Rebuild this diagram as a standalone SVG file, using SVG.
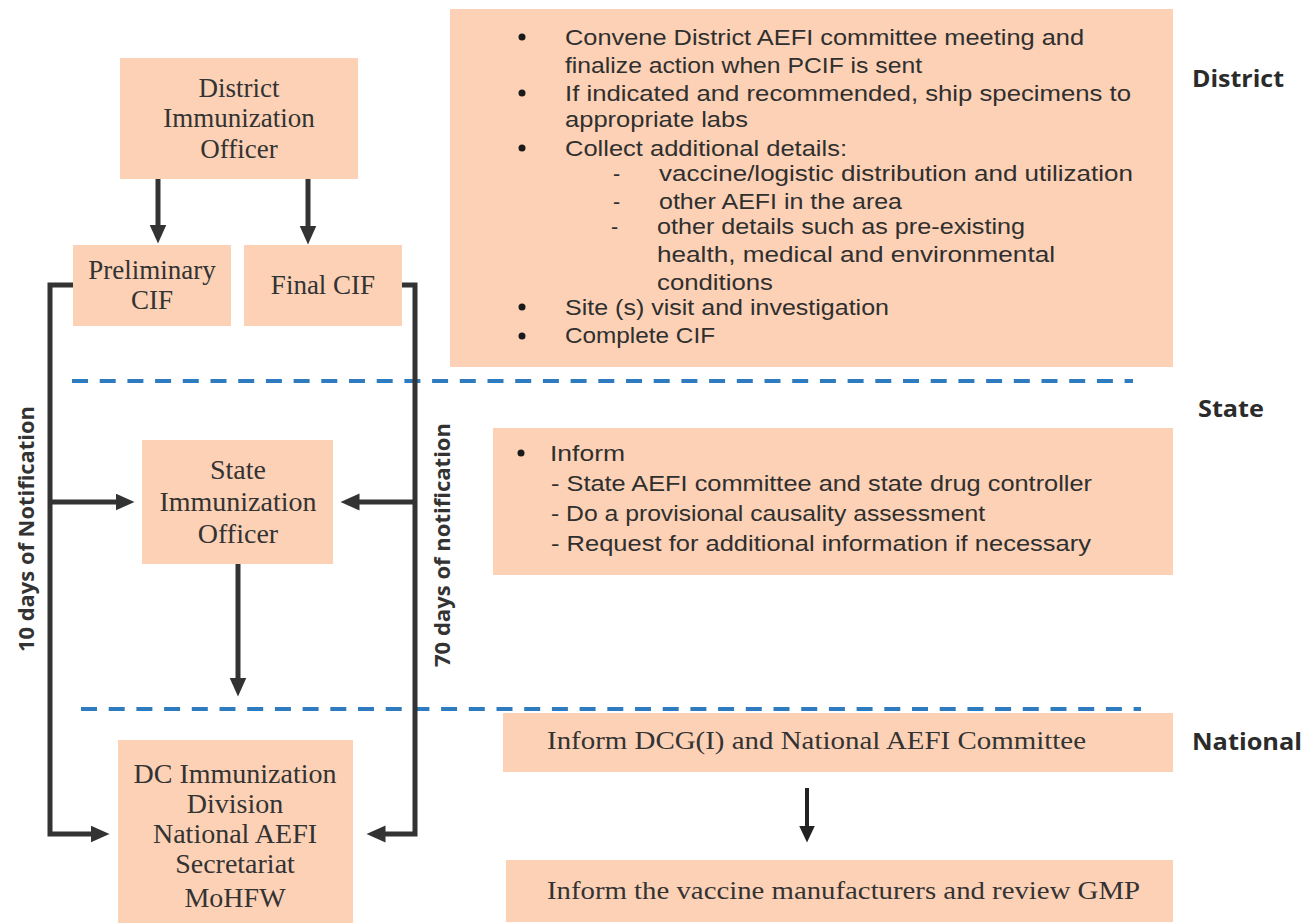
<svg xmlns="http://www.w3.org/2000/svg" width="1306" height="923" viewBox="0 0 1306 923">
<style>
.box{fill:#FCD1B5}
.serif{font-family:"Liberation Serif","Times New Roman",serif;fill:#333;text-anchor:middle}
.s27{font-size:27px}
.s28{font-size:28px}
.sans{font-family:"Liberation Sans",Arial,sans-serif;font-size:21.5px;fill:#2f2f2f}
.lbl{font-family:"Open Sans","Noto Sans",sans-serif;font-size:24px;font-weight:bold;fill:#2b2b2b}
.vlbl{font-family:"Open Sans","Noto Sans",sans-serif;font-size:22px;font-weight:bold;fill:#333;text-anchor:middle}
.nser{font-family:"Liberation Serif","Times New Roman",serif;font-size:26px;fill:#333}
.conn{fill:none;stroke:#333;stroke-width:5;stroke-linejoin:miter}
.thin{fill:none;stroke:#222;stroke-width:4}
.dash{fill:none;stroke:#2E7CBF;stroke-width:4;stroke-dasharray:16 11.7}
.bul{fill:#1a1a1a}
</style>
<defs>
<marker id="ah" markerUnits="userSpaceOnUse" markerWidth="20" markerHeight="18" refX="0.5" refY="8.5" orient="auto">
<path d="M0,0 L19,8.5 L0,17 z" fill="#333"/>
</marker>
<marker id="ah2" markerUnits="userSpaceOnUse" markerWidth="18" markerHeight="18" refX="0.5" refY="8" orient="auto">
<path d="M0,0 L17,8 L0,16 z" fill="#222"/>
</marker>
</defs>

<g id="separators">
<line class="dash" x1="72" y1="381" x2="1133" y2="381"/>
<line class="dash" x1="81" y1="709" x2="1141" y2="709"/>
</g>

<g id="level-labels">
<text class="lbl" x="1192" y="87" textLength="92" lengthAdjust="spacingAndGlyphs">District</text>
<text class="lbl" x="1198" y="417" textLength="66" lengthAdjust="spacingAndGlyphs">State</text>
<text class="lbl" x="1192" y="750" textLength="110" lengthAdjust="spacingAndGlyphs">National</text>
</g>

<g id="node-dio">
<rect class="box" x="120" y="58" width="238" height="121"/>
<text class="serif s27" x="239" y="97">District</text>
<text class="serif s27" x="239" y="127">Immunization</text>
<text class="serif s27" x="239" y="158">Officer</text>
</g>

<g id="node-pcif">
<rect class="box" x="73" y="245" width="158" height="81"/>
<text class="serif s27" x="152" y="279">Preliminary</text>
<text class="serif s27" x="152" y="309">CIF</text>
</g>

<g id="node-fcif">
<rect class="box" x="244" y="245" width="158" height="81"/>
<text class="serif s27" x="323" y="294">Final CIF</text>
</g>

<g id="node-sio">
<rect class="box" x="142" y="440" width="191" height="124"/>
<text class="serif s28" x="238" y="479">State</text>
<text class="serif s28" x="238" y="511">Immunization</text>
<text class="serif s28" x="238" y="543">Officer</text>
</g>

<g id="node-dc">
<rect class="box" x="118" y="740" width="235" height="183"/>
<text class="serif s28" x="235" y="783">DC Immunization</text>
<text class="serif s28" x="235" y="813">Division</text>
<text class="serif s28" x="235" y="843">National AEFI</text>
<text class="serif s28" x="235" y="873">Secretariat</text>
<text class="serif s28" x="235" y="907">MoHFW</text>
</g>

<g id="node-district-actions">
<rect class="box" x="450" y="9" width="723" height="358"/>
<circle class="bul" cx="522" cy="37" r="3.5"/>
<circle class="bul" cx="522" cy="93" r="3.5"/>
<circle class="bul" cx="522" cy="148" r="3.5"/>
<circle class="bul" cx="522" cy="307" r="3.5"/>
<circle class="bul" cx="522" cy="336" r="3.5"/>
<text class="sans" x="565" y="45" textLength="519" lengthAdjust="spacingAndGlyphs">Convene District AEFI committee meeting and</text>
<text class="sans" x="565" y="73" textLength="357" lengthAdjust="spacingAndGlyphs">finalize action when PCIF is sent</text>
<text class="sans" x="565" y="101" textLength="566" lengthAdjust="spacingAndGlyphs">If indicated and recommended, ship specimens to</text>
<text class="sans" x="565" y="127" textLength="183" lengthAdjust="spacingAndGlyphs">appropriate labs</text>
<text class="sans" x="565" y="156" textLength="282" lengthAdjust="spacingAndGlyphs">Collect additional details:</text>
<text class="sans" x="613" y="181">-</text>
<text class="sans" x="659" y="181" textLength="474" lengthAdjust="spacingAndGlyphs">vaccine/logistic distribution and utilization</text>
<text class="sans" x="613" y="209">-</text>
<text class="sans" x="659" y="209" textLength="243" lengthAdjust="spacingAndGlyphs">other AEFI in the area</text>
<text class="sans" x="611" y="234">-</text>
<text class="sans" x="657" y="234" textLength="368" lengthAdjust="spacingAndGlyphs">other details such as pre-existing</text>
<text class="sans" x="657" y="262" textLength="398" lengthAdjust="spacingAndGlyphs">health, medical and environmental</text>
<text class="sans" x="657" y="290" textLength="116" lengthAdjust="spacingAndGlyphs">conditions</text>
<text class="sans" x="565" y="315" textLength="324" lengthAdjust="spacingAndGlyphs">Site (s) visit and investigation</text>
<text class="sans" x="565" y="343" textLength="150" lengthAdjust="spacingAndGlyphs">Complete CIF</text>
</g>

<g id="node-state-actions">
<rect class="box" x="493" y="428" width="680" height="147"/>
<circle class="bul" cx="521" cy="453" r="3.5"/>
<text class="sans" x="550" y="461" textLength="75" lengthAdjust="spacingAndGlyphs">Inform</text>
<text class="sans" x="551" y="491" textLength="541" lengthAdjust="spacingAndGlyphs">- State AEFI committee and state drug controller</text>
<text class="sans" x="551" y="521" textLength="434" lengthAdjust="spacingAndGlyphs">- Do a provisional causality assessment</text>
<text class="sans" x="551" y="551" textLength="540" lengthAdjust="spacingAndGlyphs">- Request for additional information if necessary</text>
</g>

<g id="node-national-inform">
<rect class="box" x="503" y="713" width="670" height="59"/>
<text class="nser" x="547" y="749" textLength="539" lengthAdjust="spacingAndGlyphs">Inform DCG(I) and National AEFI Committee</text>
</g>

<g id="node-manufacturers">
<rect class="box" x="506" y="860" width="667" height="62"/>
<text class="nser" x="547" y="899" textLength="593" lengthAdjust="spacingAndGlyphs">Inform the vaccine manufacturers and review GMP</text>
</g>

<g id="connectors">
<line class="conn" x1="158" y1="179" x2="158" y2="225" marker-end="url(#ah)"/>
<line class="conn" x1="308" y1="179" x2="308" y2="226" marker-end="url(#ah)"/>
<path class="conn" d="M73,285 H50 V834 H91" marker-end="url(#ah)"/>
<path class="conn" d="M402,285 H415 V834 H385" marker-end="url(#ah)"/>
<line class="conn" x1="50" y1="502" x2="116" y2="502" marker-end="url(#ah)"/>
<line class="conn" x1="415" y1="502" x2="359" y2="502" marker-end="url(#ah)"/>
<line class="conn" x1="238" y1="564" x2="238" y2="678" marker-end="url(#ah)"/>
<line class="thin" x1="807" y1="788" x2="807" y2="826" marker-end="url(#ah2)"/>
<text class="vlbl" transform="translate(34,529) rotate(-90)" textLength="246" lengthAdjust="spacingAndGlyphs">10 days of Notification</text>
<text class="vlbl" transform="translate(450,545) rotate(-90)" textLength="244" lengthAdjust="spacingAndGlyphs">70 days of notification</text>
</g>
</svg>
